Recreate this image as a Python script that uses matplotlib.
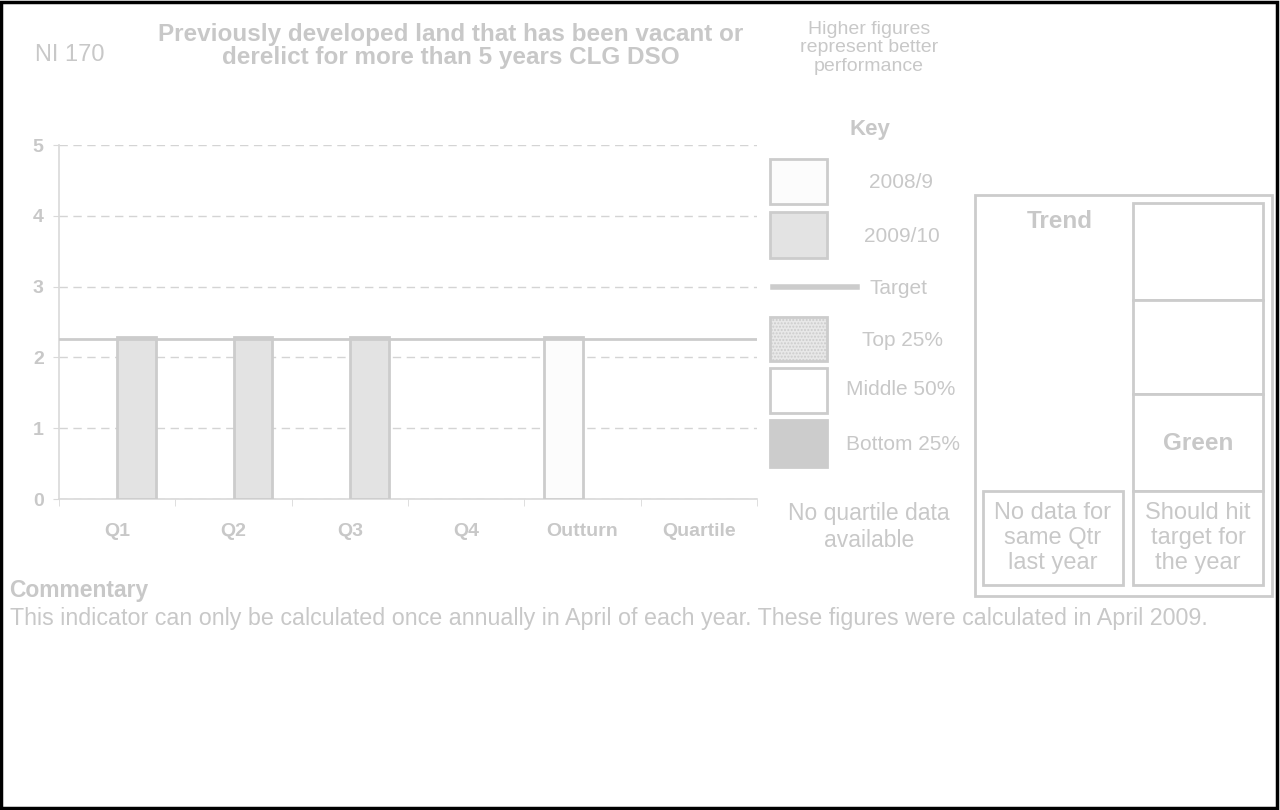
import numpy as np
import matplotlib
matplotlib.use("Agg")
import matplotlib.pyplot as plt
from matplotlib.patches import Rectangle
from matplotlib.lines import Line2D

plt.rcParams['font.family'] = ['Liberation Sans', 'DejaVu Sans']

# data
categories = ['Q1', 'Q2', 'Q3', 'Q4', 'Outturn', 'Quartile']
year_0809 = [np.nan, np.nan, np.nan, np.nan, 2.29, np.nan]
year_0910 = [2.29, 2.29, 2.29, np.nan, np.nan, np.nan]
target = 2.26
y_ticks = [0, 1, 2, 3, 4, 5]

W, H = 1280, 810
TXT = '#c8c8c8'
LINE = '#cccccc'

fig = plt.figure(figsize=(W / 100, H / 100), dpi=100)
fig.patch.set_facecolor('white')


def fx(px):
    return px / W


def fy(py):
    return 1 - py / H


def box(x0, y0, x1, y1, fc='white', ec=LINE, lw=2.0, hatch=None):
    r = Rectangle((fx(x0), fy(y1)), fx(x1) - fx(x0), fy(y0) - fy(y1),
                  transform=fig.transFigure, facecolor=fc, edgecolor=ec,
                  linewidth=lw, hatch=hatch)
    fig.add_artist(r)


def label(x, y, s, size=13, bold=False, ha='center', ls=1.2):
    fig.text(fx(x), fy(y), s, ha=ha, va='center', color=TXT, fontsize=size,
             fontweight='bold' if bold else 'normal', linespacing=ls)


# main chart
ax = fig.add_axes([fx(59), fy(499), fx(757) - fx(59), fy(145) - fy(499)])
x = np.arange(len(categories))
bw = 0.335
ax.bar(x - bw, year_0809, width=bw, align='edge', color='#fcfcfc',
       edgecolor=LINE, linewidth=2, zorder=3)
ax.bar(x, year_0910, width=bw, align='edge', color='#e3e3e3',
       edgecolor=LINE, linewidth=2, zorder=3)
ax.axhline(target, color=LINE, linewidth=2, zorder=4)

ax.set_xlim(-0.5, len(categories) - 0.5)
ax.set_ylim(0, 5)
ax.set_yticks(y_ticks)
ax.yaxis.grid(True, linestyle=(0, (6, 4)), color='#d4d4d4', linewidth=1)
ax.set_axisbelow(True)
ax.set_xticks(x)
ax.set_xticklabels(categories, fontsize=14, fontweight='bold', color=TXT)
ax.set_xticks(np.arange(len(categories) + 1) - 0.5, minor=True)
ax.tick_params(axis='x', which='major', length=0, pad=17)
ax.tick_params(axis='x', which='minor', length=5, color='#d9d9d9', direction='out')
ax.tick_params(axis='y', length=4, color='#d9d9d9', labelsize=14,
               labelcolor=TXT, pad=7)
for t in ax.get_yticklabels():
    t.set_fontweight('bold')
for s in ['top', 'right']:
    ax.spines[s].set_visible(False)
for s in ['left', 'bottom']:
    ax.spines[s].set_color('#d9d9d9')
    ax.spines[s].set_linewidth(1.2)

# header
label(70, 55, 'NI 170', size=17)
label(451, 46, 'Previously developed land that has been vacant or\n'
               'derelict for more than 5 years CLG DSO', size=17.5, bold=True, ls=0.98)
label(869, 48, 'Higher figures\nrepresent better\nperformance', size=14, ls=1.15)

# key
label(870, 130, 'Key', size=16, bold=True)
box(770, 159, 827, 204, fc='#fcfcfc')
label(901, 183, '2008/9', size=15)
box(770, 212, 827, 258, fc='#e3e3e3')
label(902, 236, '2009/10', size=15)
fig.add_artist(Line2D([fx(773), fx(857)], [fy(287), fy(287)], transform=fig.transFigure,
                      color=LINE, linewidth=4))
label(898, 288, 'Target', size=15)
box(770, 317, 827, 361, fc='#e8e8e8', hatch='.....')
label(902, 340, 'Top 25%', size=15)
box(770, 368, 827, 413, fc='white')
label(901, 390, 'Middle 50%', size=15)
box(770, 420, 827, 467, fc='#cccccc', ec='#cccccc')
label(903, 444, 'Bottom 25%', size=15)
label(869, 527, 'No quartile data\navailable', size=16.5, ls=1.18)

# trend panel
box(975, 195, 1272, 596)
box(1133, 203, 1263, 300)
box(1133, 300, 1263, 394)
box(1133, 394, 1263, 491)
box(1133, 491, 1263, 585)
box(983, 491, 1123, 585)
label(1060, 222, 'Trend', size=17.5, bold=True)
label(1198, 443, 'Green', size=17.5, bold=True)
label(1053, 538, 'No data for\nsame Qtr\nlast year', size=17, ls=1.2)
label(1198, 538, 'Should hit\ntarget for\nthe year', size=17, ls=1.2)

# commentary
label(9, 591, 'Commentary', size=16.5, bold=True, ha='left')
label(10, 618, 'This indicator can only be calculated once annually in April of each year. '
               'These figures were calculated in April 2009.', size=16.75, ha='left')

# outer border
fig.add_artist(Rectangle((0.001, 0.002), 0.997, 0.996, transform=fig.transFigure,
                         facecolor='none', edgecolor='black', linewidth=2.5))

fig.savefig('out.png', dpi=100)
